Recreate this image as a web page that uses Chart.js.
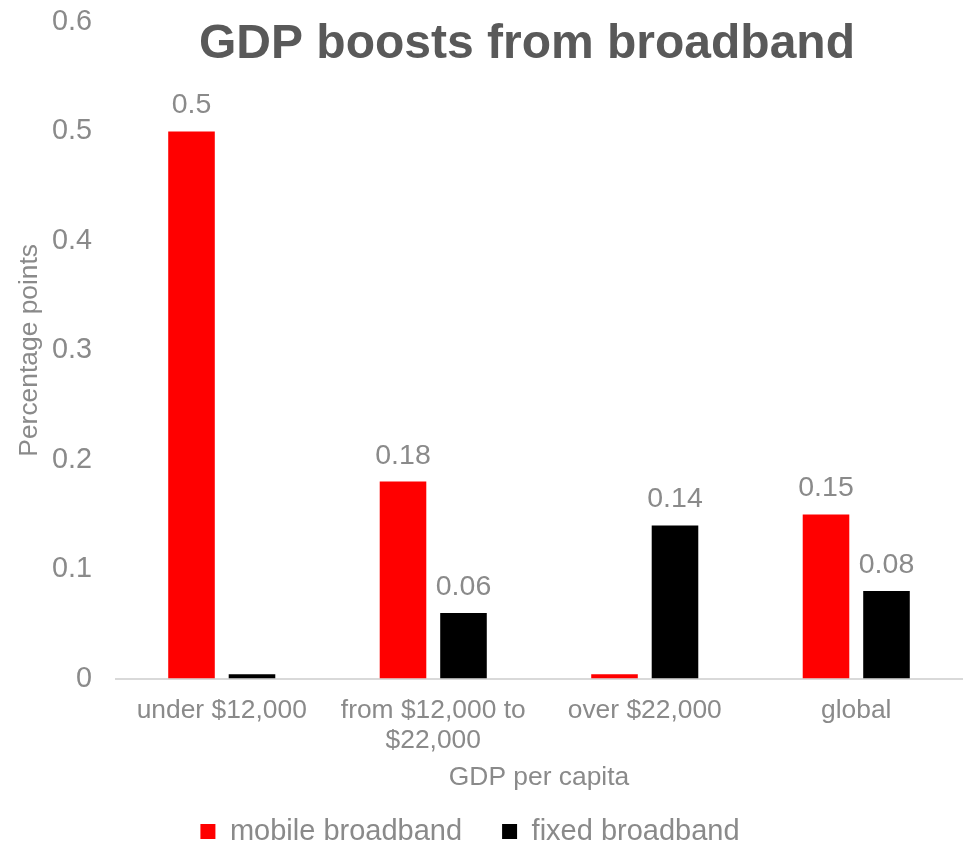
<!DOCTYPE html>
<html>
<head>
<meta charset="utf-8">
<script src="https://cdn.jsdelivr.net/npm/chart.js@4/dist/chart.umd.min.js"></script>
<style>
  html, body { margin: 0; padding: 0; background: #fff; }
  #wrap { width: 963px; height: 845px; position: relative; }
</style>
</head>
<body>
<div id="wrap"><canvas id="gdpChart"></canvas></div>
<script>
// chart data
const categories = ["under $12,000", ["from $12,000 to", "$22,000"], "over $22,000", "global"];
const mobileValues = [0.5, 0.18, 0.004, 0.15];
const fixedValues = [0.004, 0.06, 0.14, 0.08];
const seriesNames = ["mobile broadband", "fixed broadband"];
const yTicks = [0, 0.1, 0.2, 0.3, 0.4, 0.5, 0.6];

const GREY = "#8a8a8a";
const FONT = "Arial, 'Liberation Sans', sans-serif";

// draws the value above each bar (tiny placeholder bars get no label)
const valueLabels = {
    id: "valueLabels",
    afterDatasetsDraw(chart) {
        const ctx = chart.ctx;
        ctx.save();
        ctx.font = "28.5px " + FONT;
        ctx.fillStyle = GREY;
        ctx.textAlign = "center";
        ctx.textBaseline = "alphabetic";
        chart.data.datasets.forEach((ds, i) => {
            chart.getDatasetMeta(i).data.forEach((bar, j) => {
                const v = ds.data[j];
                if (v < 0.01) return;
                ctx.fillText(String(v), bar.x, bar.y - 18);
            });
        });
        ctx.restore();
    }
};

// title sits over the plot area, like the original
const plotTitle = {
    id: "plotTitle",
    afterDraw(chart) {
        const ctx = chart.ctx;
        const area = chart.chartArea;
        ctx.save();
        ctx.font = "bold 48px " + FONT;
        ctx.fillStyle = "#595959";
        ctx.textAlign = "center";
        ctx.textBaseline = "alphabetic";
        ctx.fillText("GDP boosts from broadband", (area.left + area.right) / 2 - 12, 58);
        ctx.restore();
    }
};

// nudge the legend a little left, the original is not centred on the canvas
const legendShift = {
    id: "legendShift",
    afterLayout(chart) {
        if (!chart.legend) return;
        chart.legend.left -= 18;
        chart.legend.right -= 18;
    }
};

new Chart("gdpChart", {
    type: "bar",
    data: {
        labels: categories,
        datasets: [{
            label: seriesNames[0],
            data: mobileValues,
            backgroundColor: "#ff0000",
            categoryPercentage: 0.572,
            barPercentage: 0.77
        },
        {
            label: seriesNames[1],
            data: fixedValues,
            backgroundColor: "#000000",
            categoryPercentage: 0.572,
            barPercentage: 0.77
        }]
    },
    options: {
        responsive: true,
        maintainAspectRatio: false,
        animation: false,
        layout: { padding: { top: 22, right: 1, bottom: -11, left: 14 } },
        plugins: {
            legend: {
                position: "bottom",
                labels: {
                    font: { size: 29, family: FONT },
                    color: GREY,
                    boxWidth: 15,
                    boxHeight: 15,
                    padding: 40
                }
            },
            tooltip: { enabled: false }
        },
        scales: {
            x: {
                grid: { display: false, drawTicks: false },
                border: { color: "#d9d9d9", width: 2 },
                ticks: {
                    font: { size: 26.4, family: FONT, lineHeight: 1.15 },
                    color: GREY,
                    maxRotation: 0,
                    padding: 17
                },
                title: {
                    display: true,
                    text: "GDP per capita",
                    font: { size: 26.4, family: FONT },
                    color: GREY,
                    padding: { top: -11, bottom: -17 }
                }
            },
            y: {
                min: 0,
                max: 0.6,
                afterBuildTicks(scale) {
                    scale.ticks = yTicks.map(v => ({ value: v }));
                },
                afterFit(scale) {
                    scale.width = 102;
                    scale.paddingTop = 0;
                    scale.paddingBottom = 0;
                },
                grid: { display: false, drawTicks: false },
                border: { display: false },
                ticks: {
                    font: { size: 28.8, family: FONT },
                    color: GREY,
                    padding: 24
                },
                title: {
                    display: true,
                    text: "Percentage points",
                    font: { size: 26.4, family: FONT },
                    color: GREY,
                    padding: { top: 0, bottom: 4 }
                }
            }
        }
    },
    plugins: [valueLabels, plotTitle, legendShift]
});
</script>
</body>
</html>
